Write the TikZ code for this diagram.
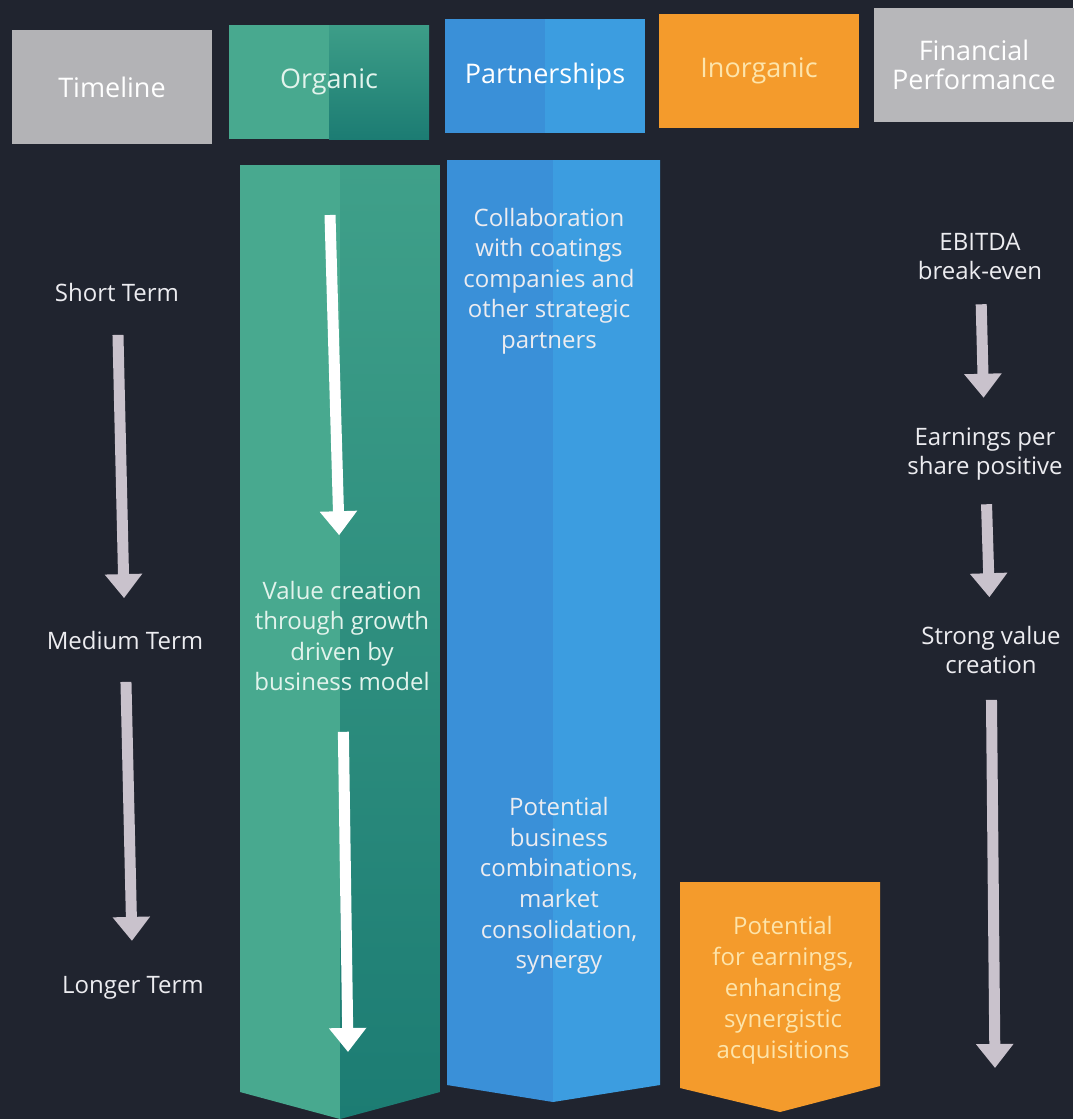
\documentclass[tikz,border=0pt]{standalone}
\usepackage{fontspec}
\setmainfont{Open Sans}
\usetikzlibrary{arrows.meta}
\definecolor{bgnavy}{HTML}{20242F}
\definecolor{hdgray}{HTML}{B3B3B6}
\definecolor{orglight}{HTML}{48A98F}
\definecolor{orgdark}{HTML}{1C7C73}
\definecolor{partleft}{HTML}{3A90D8}
\definecolor{partright}{HTML}{3C9DE0}
\definecolor{inorange}{HTML}{F49B2C}
\definecolor{arrowgray}{HTML}{C9C2CC}
\definecolor{txtlight}{HTML}{ECECF0}
\definecolor{txtmint}{HTML}{E2F3EC}
\definecolor{txtcream}{HTML}{FDE4AA}

\tikzset{
  hdr/.style={minimum width=100pt, minimum height=57pt, inner sep=0pt, text=white, align=center, font=\fontsize{13.5}{14.5}\selectfont},
  lbl/.style={text=txtlight, align=center, font=\fontsize{12}{14.5}\selectfont},
  coltext/.style={lbl, font=\fontsize{12}{15.3}\selectfont},
  tarrow/.style={draw=arrowgray, line width=5.5pt, -{Triangle[width=18pt,length=12pt]}},
  warrow/.style={tarrow, draw=white},
}

\begin{document}
\begin{tikzpicture}[x=0.5pt, y=-0.5pt]
  \useasboundingbox (0,0) rectangle (1073,1119);
  \fill[bgnavy] (0,0) rectangle (1073,1119);

  % header row
  \node[hdr, fill=hdgray] (hTime) at (112,87) {Timeline};
  \node[hdr, fill=orglight, text=txtmint, path picture={\fill[top color=orglight!75!orgdark, bottom color=orgdark] (path picture bounding box.north) rectangle (path picture bounding box.south east);}] (hOrg) at (329,82) {Organic};
  \node[hdr, fill=partleft, path picture={\fill[partright] (path picture bounding box.north) rectangle (path picture bounding box.south east);}] (hPart) at (545,76) {Partnerships};
  \node[hdr, fill=inorange, text=txtcream] (hInorg) at (759,71) {Inorganic};
  \node[hdr, fill=hdgray!95!white] (hFin) at (974,65) {Financial\\Performance};

  % columns
  \fill[orglight] (240,165) -- (340,165) -- (340,1119) -- (240,1092) -- cycle;
  \shade[top color=orglight!80!orgdark, bottom color=orgdark] (340,165) -- (440,165) -- (440,1092) -- (340,1119) -- cycle;
  \fill[partleft] (447,160) -- (553,160) -- (553,1102) -- (447,1085) -- cycle;
  \fill[partright] (553,160) -- (660,160) -- (660,1085) -- (553,1102) -- cycle;
  \fill[inorange] (680,882) -- (880,882) -- (880,1086) -- (780,1112) -- (680,1088) -- cycle;

  % timeline
  \node[lbl] (st) at (117,292) {Short Term};
  \node[lbl] (mt) at (125,640) {Medium Term};
  \node[lbl] (lt) at (133,988) {Longer Term};
  \draw[tarrow, shorten <=13.3pt, shorten >=12.8pt] (st) -- (mt);
  \draw[tarrow, shorten <=12.8pt, shorten >=14.3pt] (mt) -- (lt);

  % organic
  \coordinate (oTop) at (330,215);
  \coordinate (oBot) at (348,1052);
  \node[coltext, text=txtmint] (oVal) at (342,636) {Value creation\\through growth\\driven by\\business model};
  \draw[warrow, shorten >=19.3pt] (oTop) -- (oVal);
  \draw[warrow, shorten <=16.8pt] (oVal) -- (oBot);

  % partnerships
  \node[coltext] (pColl) at (549,281) {Collaboration\\with coatings\\companies and\\other strategic\\partners};
  \node[coltext] (pComb) at (559,886) {Potential\\business\\combinations,\\market\\consolidation,\\synergy};

  % inorganic
  \node[coltext, text=txtcream, font=\fontsize{12}{15.5}\selectfont] (iAcq) at (783,990) {Potential\\for earnings,\\enhancing\\synergistic\\acquisitions};

  % financial performance
  \node[lbl] (fEb) at (980,257) {EBITDA\\break-even};
  \node[lbl] (fEps) at (985,454) {Earnings per\\share positive};
  \node[lbl] (fVal) at (991,650) {Strong value\\creation};
  \coordinate (fEnd) at (995,1068);
  \draw[tarrow, shorten <=8.5pt, shorten >=11.5pt] (fEb) -- (fEps);
  \draw[tarrow, shorten <=8.5pt, shorten >=11pt] (fEps) -- (fVal);
  \draw[tarrow, shorten <=9.5pt] (fVal) -- (fEnd);
\end{tikzpicture}
\end{document}
